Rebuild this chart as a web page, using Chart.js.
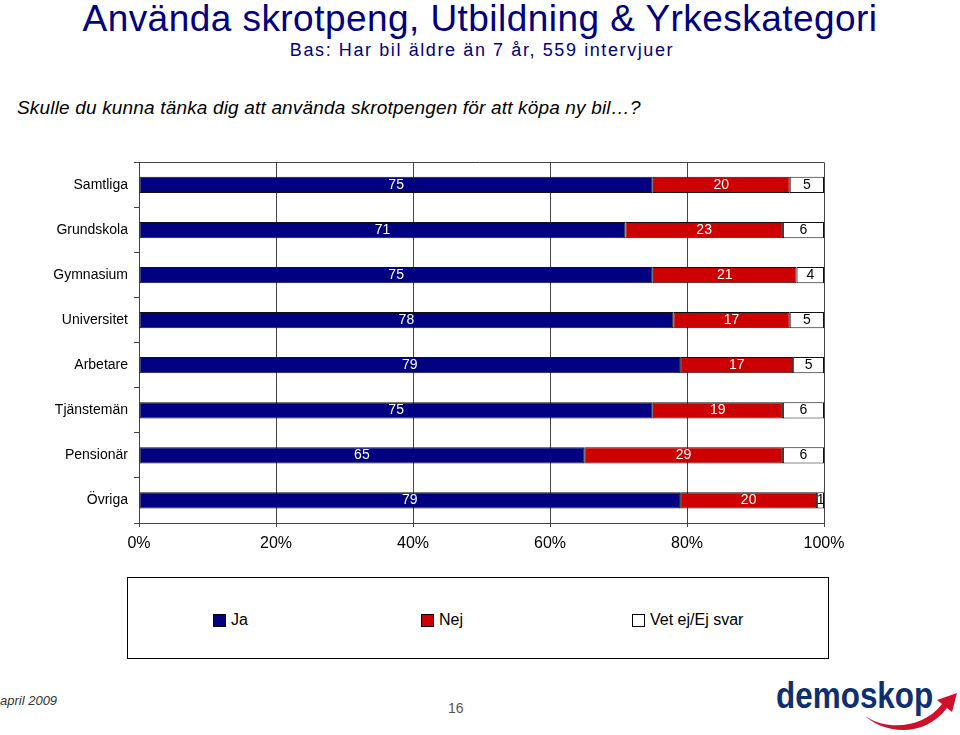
<!DOCTYPE html>
<html><head><meta charset="utf-8">
<script src="https://cdn.jsdelivr.net/npm/chart.js@4.4.0/dist/chart.umd.min.js"></script>
<style>
body{margin:0;width:960px;height:735px;position:relative;background:#fff;font-family:"Liberation Sans",Arial,sans-serif;overflow:hidden}
.abs{position:absolute;white-space:nowrap;line-height:1}
#title{top:0px;left:0;width:960px;text-align:center;color:#000080;font-size:37px;letter-spacing:0.45px}
#sub{top:41px;left:0;width:964px;text-align:center;color:#000080;font-size:18px;letter-spacing:1.6px}
#q{top:98px;left:17px;font-size:19px;font-style:italic;color:#000;letter-spacing:0.17px}
#chartwrap{position:absolute;left:0;top:148px;width:960px;height:408px}
#legend{position:absolute;left:127px;top:577px;width:700px;height:80px;border:1px solid #000}
.li{position:absolute;top:33px;font-size:16px;color:#000;display:flex;align-items:center}
.sw{width:11px;height:11px;border:1px solid #000;margin-right:5px;display:inline-block}
#date{top:694px;left:0;font-size:13px;font-style:italic;color:#333}
#page{top:701px;left:448px;font-size:14px;color:#555}
#logo{top:677px;left:776px;font-size:37px;font-weight:bold;color:#0f2f6e;transform:scaleX(0.85);transform-origin:0 0}
</style></head>
<body>
<div class="abs" id="title">Använda skrotpeng, Utbildning &amp; Yrkeskategori</div>
<div class="abs" id="sub">Bas: Har bil äldre än 7 år, 559 intervjuer</div>
<div class="abs" id="q">Skulle du kunna tänka dig att använda skrotpengen för att köpa ny bil…?</div>
<div id="chartwrap"><canvas id="c"></canvas></div>
<div id="legend"></div>
<div class="abs" id="date">april 2009</div>
<div class="abs" id="page">16</div>
<div class="abs" id="logo">demoskop</div>
<svg style="position:absolute;left:830px;top:680px" width="130" height="55" viewBox="0 0 130 55">
<path d="M35 36 C55 50 92 50 112 24 L107 20 L127 13 L122 32 L117 28 C94 58 55 54 35 36 Z" fill="#d0102a"/>
</svg>
<script>
const categories = ["Samtliga","Grundskola","Gymnasium","Universitet","Arbetare","Tjänstemän","Pensionär","Övriga"];
const seriesNames = ["Ja","Nej","Vet ej/Ej svar"];
// bar lengths; labels show the rounded figures
const ja    = [75,71,75,78,79,75,65,79];
const nej   = [20,23,21,17,16.5,19,29,20];
const vetej = [5,6,4,5,4.5,6,6,1];
const xTickLabels = ["0%","20%","40%","60%","80%","100%"];
const colors = ["#000080","#cc0000","#ffffff"];
const labelColors = ["#ffffff","#ffffff","#000000"];

const raw = [ja, nej, vetej];

const datasets = raw.map((arr, k) => ({
  label: seriesNames[k],
  data: arr,
  backgroundColor: colors[k],
  borderColor: "#111",
  borderWidth: 1,
  borderSkipped: false,
  barPercentage: 0.36,
  categoryPercentage: 1
}));

const lg = document.getElementById('legend');
const lx = [85, 293, 504];
seriesNames.forEach((n, k) => {
  const d = document.createElement('div');
  d.className = 'li';
  d.style.left = lx[k] + 'px';
  d.innerHTML = '<span class="sw" style="background:' + colors[k] + '"></span>' + n;
  lg.appendChild(d);
});

const labelPlugin = {
  id: 'lbl',
  afterDatasetsDraw(chart) {
    const ctx = chart.ctx;
    ctx.save();
    ctx.font = '14px "Liberation Sans", Arial, sans-serif';
    ctx.textAlign = 'center';
    ctx.textBaseline = 'middle';
    chart.data.datasets.forEach((ds, k) => {
      const meta = chart.getDatasetMeta(k);
      meta.data.forEach((bar, j) => {
        const p = bar.getProps(['x', 'y', 'base'], true);
        ctx.fillStyle = labelColors[k];
        ctx.fillText(String(Math.round(ds.data[j])), (p.x + p.base) / 2, p.y);
      });
    });
    ctx.restore();
  },
  afterDraw(chart) {
    const a = chart.chartArea, ctx = chart.ctx;
    ctx.save();
    ctx.strokeStyle = '#444';
    ctx.lineWidth = 1;
    ctx.beginPath();
    ctx.moveTo(a.left - 4, Math.round(a.top) + 0.5);
    ctx.lineTo(a.right, Math.round(a.top) + 0.5);
    ctx.stroke();
    ctx.restore();
  }
};

new Chart(document.getElementById('c'), {
  type: 'bar',
  data: { labels: categories, datasets },
  options: {
    indexAxis: 'y',
    responsive: true,
    maintainAspectRatio: false,
    animation: false,
    layout: { padding: { top: 1, right: 136, left: 0, bottom: 0 } },
    plugins: { legend: { display: false }, tooltip: { enabled: false } },
    scales: {
      x: {
        stacked: true, min: 0, max: 100,
        ticks: { stepSize: 20, color: '#000', padding: 7,
          font: { size: 16, family: '"Liberation Sans", Arial, sans-serif' },
          callback: (v, i) => xTickLabels[i] },
        grid: { color: '#444', lineWidth: 1, tickLength: 4, drawTicks: true },
        border: { color: '#444' },
        afterFit: s => { s.height = 33; }
      },
      y: {
        stacked: true,
        ticks: { color: '#000', padding: 6,
          font: { size: 14, family: '"Liberation Sans", Arial, sans-serif' } },
        grid: { display: true, drawOnChartArea: false, offset: true, tickLength: 5, color: '#444' },
        border: { color: '#444' },
        afterFit: s => { s.width = 139; }
      }
    }
  },
  plugins: [labelPlugin]
});
</script>
</body></html>
